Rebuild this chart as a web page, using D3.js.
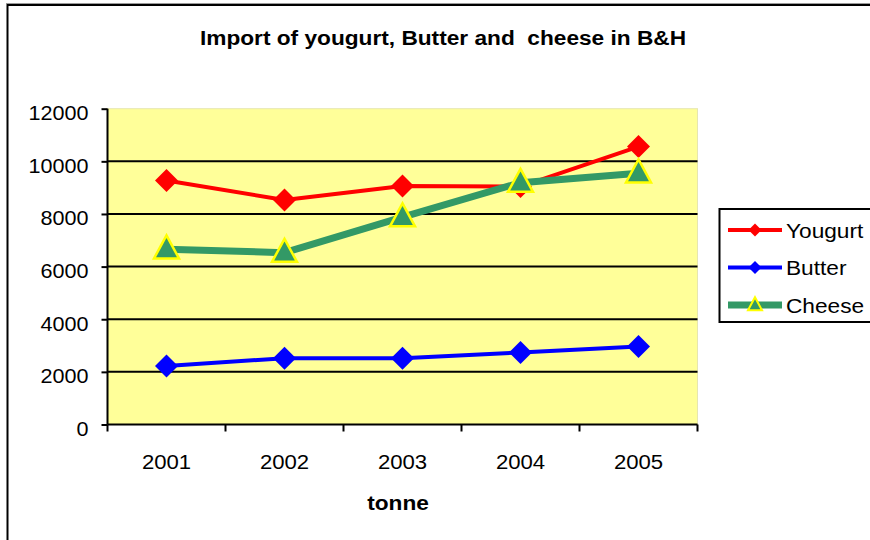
<!DOCTYPE html>
<html>
<head>
<meta charset="utf-8">
<script src="https://cdn.jsdelivr.net/npm/d3@7"></script>
<style>
  html, body { margin: 0; padding: 0; background: #ffffff; }
  svg { display: block; }
  text { font-family: "Liberation Sans", Arial, sans-serif; fill: #000; }
</style>
</head>
<body>
<svg id="chart" width="870" height="540"></svg>
<script>
// Import of dairy products in B&H, tonnes per year
const years = ["2001", "2002", "2003", "2004", "2005"];
const yougurt = [9270, 8530, 9060, 9040, 10560];
const butter = [2220, 2520, 2520, 2740, 2960];
const cheese = [6660, 6530, 7880, 9190, 9550];
const yTicks = [0, 2000, 4000, 6000, 8000, 10000, 12000];
const seriesNames = ["Yougurt", "Butter", "Cheese"];

const series = [
  { name: seriesNames[0], values: yougurt, color: "#ff0000", width: 4, marker: "diamond" },
  { name: seriesNames[1], values: butter, color: "#0000ff", width: 4, marker: "diamond" },
  { name: seriesNames[2], values: cheese, color: "#339966", width: 7, marker: "triangle" }
];

const svg = d3.select("#chart");
const stretch = 1.08; // text is set slightly wide

// outer frame (continues past the right and bottom edges)
svg.append("line").attr("x1", 6).attr("x2", 870).attr("y1", 3.5).attr("y2", 3.5)
  .attr("stroke", "#9a9a9a").attr("stroke-width", 1);
svg.append("rect").attr("x", 7.5).attr("y", 5).attr("width", 900).attr("height", 600)
  .attr("fill", "none").attr("stroke", "#000").attr("stroke-width", 2);

const plot = { left: 107.5, right: 697.5, top: 108.7, bottom: 424.5 };

const x = d3.scalePoint().domain(years).range([plot.left, plot.right]).padding(0.5);
const xBand = d3.scaleBand().domain(years).range([plot.left, plot.right]);
const y = d3.scaleLinear().domain([0, 12000]).range([plot.bottom, plot.top]);

// plot background
svg.append("rect")
  .attr("x", plot.left).attr("y", plot.top)
  .attr("width", plot.right - plot.left).attr("height", plot.bottom - plot.top)
  .attr("fill", "#ffff99").attr("stroke", "#e6e6b0").attr("stroke-width", 1);

// horizontal gridlines
svg.append("g").selectAll("line")
  .data(yTicks.filter(d => d > 0 && d < 12000))
  .join("line")
  .attr("x1", plot.left).attr("x2", plot.right)
  .attr("y1", d => y(d)).attr("y2", d => y(d))
  .attr("stroke", "#000").attr("stroke-width", 2);

function stretchedText(sel) {
  sel.each(function () {
    const t = d3.select(this);
    const tx = +t.attr("data-x"), ty = +t.attr("data-y");
    t.attr("transform", `translate(${tx},${ty}) scale(${stretch},1)`);
  });
}

// y axis
const yAxis = svg.append("g")
  .attr("transform", `translate(${plot.left},0)`)
  .call(d3.axisLeft(y).tickValues(yTicks).tickSize(6).tickPadding(12).tickFormat(d3.format("d")));
yAxis.select(".domain").attr("stroke", "#000").attr("stroke-width", 2)
  .attr("d", `M0,${plot.top}V${plot.bottom}`);
yAxis.selectAll(".tick line").attr("stroke", "#000").attr("stroke-width", 2);
yAxis.selectAll(".tick text")
  .attr("font-size", 20).attr("font-family", "Liberation Sans, Arial, sans-serif")
  .attr("dy", null).attr("x", null)
  .attr("data-x", -19).attr("data-y", 11)
  .call(stretchedText);

// x axis with boundary ticks between categories
const xAxisG = svg.append("g").attr("transform", `translate(0,${plot.bottom})`);
xAxisG.append("line").attr("x1", plot.left).attr("x2", plot.right)
  .attr("stroke", "#000").attr("stroke-width", 2);
const bounds = years.map(d => xBand(d)).concat([plot.right]);
xAxisG.selectAll("line.tk").data(bounds).join("line").attr("class", "tk")
  .attr("x1", d => d).attr("x2", d => d).attr("y1", 0).attr("y2", 7)
  .attr("stroke", "#000").attr("stroke-width", 2);
xAxisG.selectAll("text.yr").data(years).join("text").attr("class", "yr")
  .attr("text-anchor", "middle").attr("font-size", 20.5)
  .attr("data-x", d => x(d)).attr("data-y", 44)
  .text(d => d)
  .call(stretchedText);

// lines
const line = d3.line().x((d, i) => x(years[i])).y(d => y(d));

function drawMarker(g, s, cx, cy, big) {
  if (s.marker === "diamond") {
    const r = big ? 11.5 : 6.5;
    g.append("path")
      .attr("d", `M${cx},${cy - r}L${cx + r},${cy}L${cx},${cy + r}L${cx - r},${cy}Z`)
      .attr("fill", s.color);
  } else {
    const h = big ? 23 : 13, w = big ? 25 : 14;
    g.append("path")
      .attr("d", `M${cx},${cy - h * 0.6}L${cx + w / 2},${cy + h * 0.4}L${cx - w / 2},${cy + h * 0.4}Z`)
      .attr("fill", s.color).attr("stroke", "#ffff00").attr("stroke-width", big ? 2.5 : 2)
      .attr("stroke-linejoin", "miter");
  }
}

series.forEach(s => {
  const g = svg.append("g");
  g.append("path").datum(s.values).attr("d", line)
    .attr("fill", "none").attr("stroke", s.color).attr("stroke-width", s.width)
    .attr("stroke-linejoin", "round");
  s.values.forEach((v, i) => drawMarker(g, s, x(years[i]), y(v), true));
});

// title and axis title
svg.append("text").attr("text-anchor", "middle").attr("font-weight", "bold").attr("font-size", 21)
  .attr("xml:space", "preserve").style("white-space", "pre")
  .attr("data-x", 443).attr("data-y", 45)
  .text("Import of yougurt, Butter and  cheese in B&H")
  .call(stretchedText);

svg.append("text").attr("text-anchor", "middle").attr("font-weight", "bold").attr("font-size", 21)
  .attr("data-x", 398).attr("data-y", 510)
  .text("tonne")
  .call(stretchedText);

// legend
const legend = svg.append("g");
legend.append("rect").attr("x", 719.5).attr("y", 209).attr("width", 200).attr("height", 113)
  .attr("fill", "#fff").attr("stroke", "#000").attr("stroke-width", 2);
const rowY = [230, 267.5, 305];
series.forEach((s, i) => {
  const ly = rowY[i];
  legend.append("line").attr("x1", 728).attr("x2", 782).attr("y1", ly).attr("y2", ly)
    .attr("stroke", s.color).attr("stroke-width", s.width);
  drawMarker(legend, s, 755, ly, false);
  legend.append("text").attr("font-size", 21)
    .attr("data-x", 786).attr("data-y", ly + 7.5)
    .text(s.name)
    .call(stretchedText);
});
</script>
</body>
</html>
